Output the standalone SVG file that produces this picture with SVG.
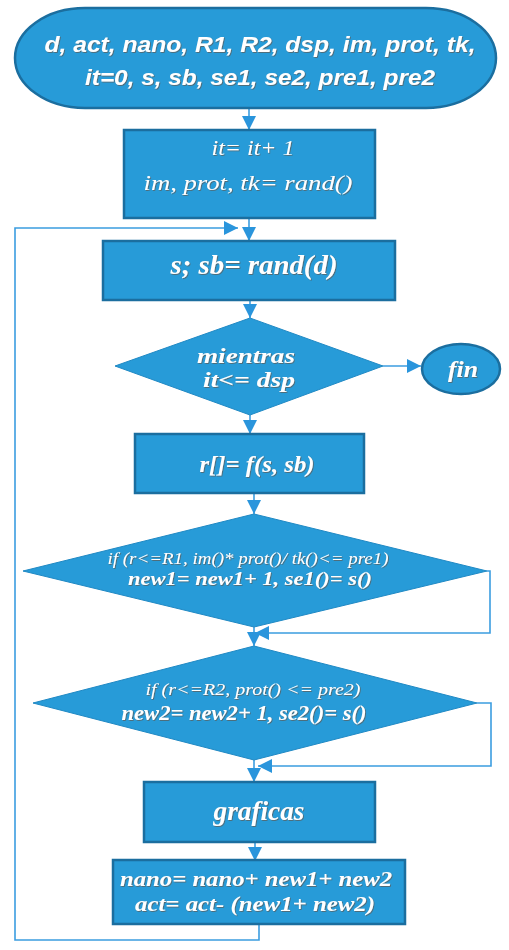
<svg xmlns="http://www.w3.org/2000/svg" width="509" height="950" viewBox="0 0 509 950">
<style>
.n{fill:#279bd8;stroke:#1b6e9f;stroke-width:2.5}
.d{fill:#279bd8;stroke:#2089c4;stroke-width:1}
.c{fill:none;stroke:#3b9de0;stroke-width:1.6}
.t{fill:#ffffff;font-family:"Liberation Serif",serif;font-style:italic;text-anchor:middle;filter:url(#sh)}
.b{font-weight:bold}
.s{font-family:"Liberation Sans",sans-serif;font-weight:bold}
</style>
<defs>
<marker id="a" markerUnits="userSpaceOnUse" markerWidth="14" markerHeight="14" viewBox="0 0 14 14" refX="14" refY="7" orient="auto"><path d="M0,0 L14,7 L0,14 Z" fill="#2a95dc"/></marker>
<filter id="sh" x="-5%" y="-20%" width="110%" height="150%"><feDropShadow dx="0.8" dy="0.8" stdDeviation="0.4" flood-color="#6b4a30" flood-opacity="0.7"/></filter>
</defs>
<g id="connectors">
<path class="c" d="M249,108 V130" marker-end="url(#a)"/>
<path class="c" d="M249,218 V241" marker-end="url(#a)"/>
<path class="c" d="M259,924 V940 H15 V228 H238" marker-end="url(#a)"/>
<path class="c" d="M250,300 V318" marker-end="url(#a)"/>
<path class="c" d="M383,366 H421" marker-end="url(#a)"/>
<path class="c" d="M250,415 V434" marker-end="url(#a)"/>
<path class="c" d="M254,493 V514" marker-end="url(#a)"/>
<path class="c" d="M487,571 H490 V633 H255" marker-end="url(#a)"/>
<path class="c" d="M254,627 V646" marker-end="url(#a)"/>
<path class="c" d="M477,703 H491 V766 H258" marker-end="url(#a)"/>
<path class="c" d="M254,760 V782" marker-end="url(#a)"/>
<path class="c" d="M255,842 V861" marker-end="url(#a)"/>
</g>
<g id="start">
<rect class="n" x="15" y="8" width="481" height="100" rx="70" ry="50"/>
<text class="t s" x="260" y="52" font-size="22" textLength="431" lengthAdjust="spacingAndGlyphs">d, act, nano, R1, R2, dsp, im, prot, tk,</text>
<text class="t s" x="260" y="85" font-size="22" textLength="350" lengthAdjust="spacingAndGlyphs">it=0, s, sb, se1, se2, pre1, pre2</text>
</g>
<g id="init">
<rect class="n" x="124" y="130" width="251" height="88"/>
<text class="t" x="253" y="155" font-size="21" textLength="83" lengthAdjust="spacingAndGlyphs">it= it+ 1</text>
<text class="t" x="248" y="190" font-size="21" textLength="209" lengthAdjust="spacingAndGlyphs">im, prot, tk= rand()</text>
</g>
<g id="rand">
<rect class="n" x="103" y="241" width="292" height="59"/>
<text class="t b" x="254" y="274" font-size="28" textLength="167" lengthAdjust="spacingAndGlyphs">s; sb= rand(d)</text>
</g>
<g id="mientras">
<polygon class="d" points="250,318 383,366 250,415 115,366"/>
<text class="t b" x="246" y="363" font-size="22" textLength="98" lengthAdjust="spacingAndGlyphs">mientras</text>
<text class="t b" x="249" y="387" font-size="22" textLength="92" lengthAdjust="spacingAndGlyphs">it&lt;= dsp</text>
</g>
<g id="fin">
<ellipse class="n" cx="461" cy="369" rx="39" ry="25" stroke-width="1.5"/>
<text class="t b" x="463" y="377" font-size="23" textLength="30" lengthAdjust="spacingAndGlyphs">fin</text>
</g>
<g id="r">
<rect class="n" x="135" y="434" width="229" height="59"/>
<text class="t b" x="257" y="472" font-size="24" textLength="115" lengthAdjust="spacingAndGlyphs">r[]= f(s, sb)</text>
</g>
<g id="if1">
<polygon class="d" points="254,514 487,571 254,627 23,571"/>
<text class="t" x="248" y="564" font-size="16" textLength="281" lengthAdjust="spacingAndGlyphs">if (r&lt;=R1, im()* prot()/ tk()&lt;= pre1)</text>
<text class="t b" x="250" y="585" font-size="19" textLength="244" lengthAdjust="spacingAndGlyphs">new1= new1+ 1, se1()= s()</text>
</g>
<g id="if2">
<polygon class="d" points="254,646 477,703 254,760 33,703"/>
<text class="t" x="253" y="695" font-size="17" textLength="215" lengthAdjust="spacingAndGlyphs">if (r&lt;=R2, prot() &lt;=  pre2)</text>
<text class="t b" x="244" y="720" font-size="20" textLength="245" lengthAdjust="spacingAndGlyphs">new2= new2+ 1, se2()= s()</text>
</g>
<g id="graficas">
<rect class="n" x="144" y="782" width="231" height="60"/>
<text class="t b" x="259" y="820" font-size="28" textLength="91" lengthAdjust="spacingAndGlyphs">graficas</text>
</g>
<g id="update">
<rect class="n" x="113" y="860" width="292" height="64"/>
<text class="t b" x="256" y="886" font-size="22" textLength="272" lengthAdjust="spacingAndGlyphs">nano= nano+ new1+ new2</text>
<text class="t b" x="255" y="911" font-size="22" textLength="240" lengthAdjust="spacingAndGlyphs">act= act- (new1+ new2)</text>
</g>
</svg>
